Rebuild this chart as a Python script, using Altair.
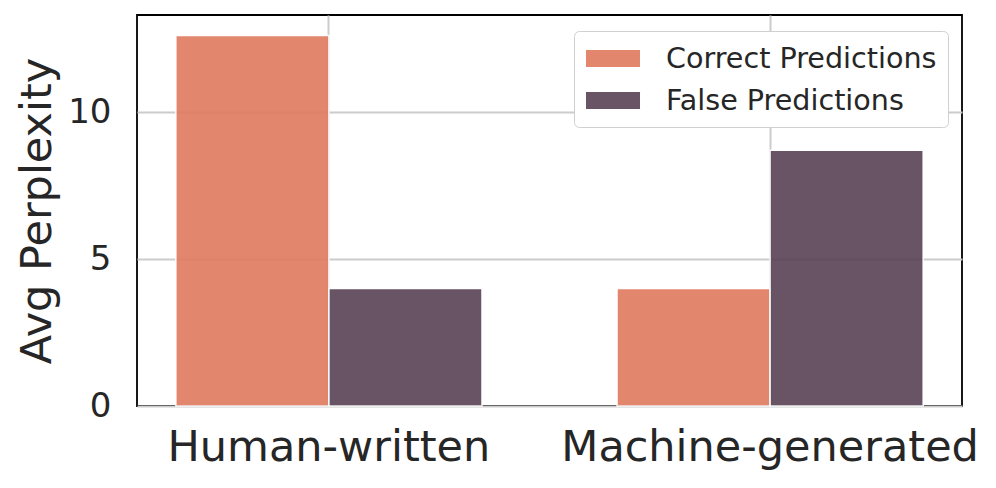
import altair as alt
import pandas as pd

categories = ["Human-written", "Machine-generated"]
series = ["Correct Predictions", "False Predictions"]
correct_vals = [12.6, 4.0]
false_vals = [4.0, 8.7]
colors = ["#e07a5f", "#594255"]
y_ticks = [0, 5, 10]

rows = []
for i, c in enumerate(categories):
    rows.append({"cat": c, "series": series[0], "val": correct_vals[i]})
    rows.append({"cat": c, "series": series[1], "val": false_vals[i]})
df = pd.DataFrame(rows)

font = "DejaVu Sans"
txt = "#262626"

chart = alt.Chart(df).mark_bar(opacity=0.9, stroke="white", strokeWidth=1.5).encode(
    x=alt.X("cat:N", sort=categories, title=None,
            scale=alt.Scale(paddingInner=0.306, paddingOuter=0.088),
            axis=alt.Axis(grid=True, gridColor="#cccccc", gridWidth=2, labelAngle=0,
                          labelFontSize=43, labelFont=font, labelColor=txt, labelLimit=0,
                          labelPadding=20, ticks=False, domain=False)),
    xOffset=alt.XOffset("series:N", sort=series,
                        scale=alt.Scale(paddingInner=0, paddingOuter=0)),
    y=alt.Y("val:Q", title="Avg Perplexity",
            scale=alt.Scale(domain=[0, 13.3], nice=False),
            axis=alt.Axis(values=y_ticks, grid=True, gridColor="#cccccc", gridWidth=2,
                          labelFontSize=34, labelFont=font, labelColor=txt,
                          labelPadding=26, ticks=False, domain=False,
                          titleFontSize=43, titleFont=font, titleColor=txt,
                          titleFontWeight="normal", titlePadding=8)),
    color=alt.Color("series:N", sort=series, title=None,
                    scale=alt.Scale(domain=series, range=colors),
                    legend=alt.Legend(orient="none", legendX=437, legendY=16,
                                      labelFontSize=28.6, labelFont=font, labelColor=txt,
                                      labelLimit=0,
                                      symbolType="M-1,-0.5625L2.4375,-0.5625L2.4375,0.5625L-1,0.5625Z",
                                      symbolSize=1024, symbolOpacity=0.9,
                                      symbolStrokeColor="white", symbolStrokeWidth=1,
                                      labelOffset=48, rowPadding=10, padding=11,
                                      strokeColor="#d0d0d0", cornerRadius=5,
                                      fillColor="white")),
).properties(
    width=825, height=391,
    autosize=alt.AutoSizeParams(type="none"),
    padding={"left": 129, "top": 7, "right": 26, "bottom": 74},
).configure_view(
    stroke="#000000", strokeWidth=1.8
)

chart.save("out.html", embed_options={"renderer": "svg", "actions": False})
